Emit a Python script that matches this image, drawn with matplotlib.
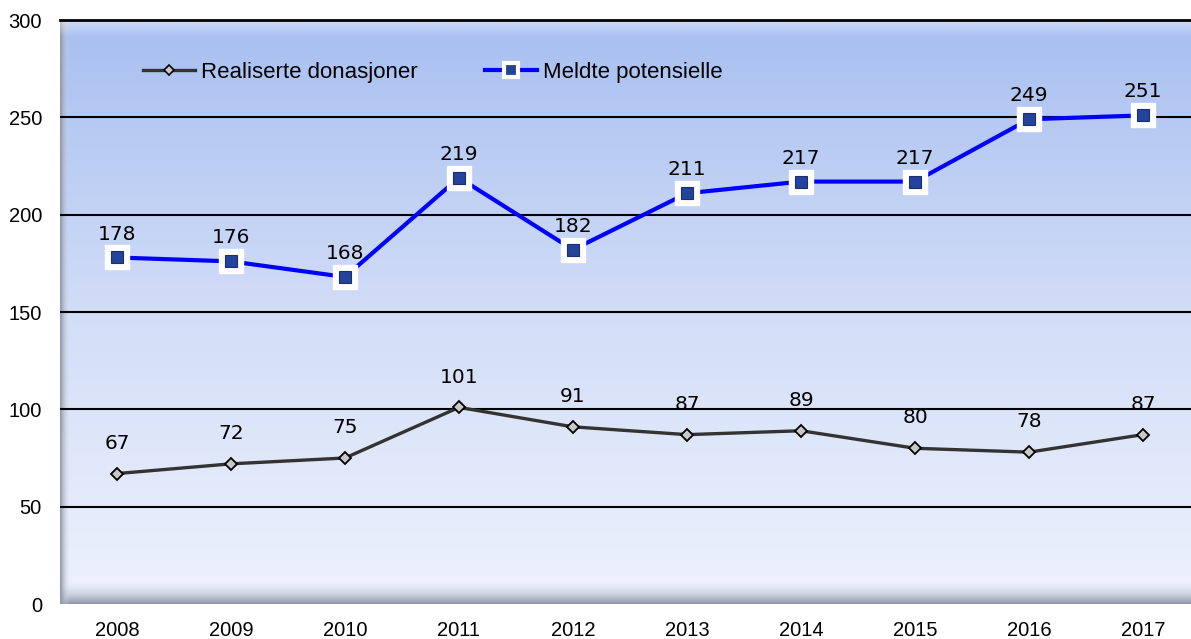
import numpy as np
import matplotlib
matplotlib.use("Agg")
import matplotlib.pyplot as plt
from matplotlib.colors import LinearSegmentedColormap
from matplotlib.lines import Line2D

years = ["2008", "2009", "2010", "2011", "2012", "2013", "2014", "2015", "2016", "2017"]
realiserte = [67, 72, 75, 101, 91, 87, 89, 80, 78, 87]
meldte = [178, 176, 168, 219, 182, 211, 217, 217, 249, 251]
y_ticks = [0, 50, 100, 150, 200, 250, 300]

W, H = 1191, 639
fig = plt.figure(figsize=(W / 100, H / 100), dpi=100)
ax = fig.add_axes([60 / W, (H - 604) / H, (W - 60) / W, 584 / H])

x = np.arange(len(years))
xr = 9 + 48 / 114
ax.set_xlim(-0.5, xr)
ax.set_ylim(0, 300)

# gradient background
cmap = LinearSegmentedColormap.from_list("bg", ["#eef2fd", "#d2ddf7", "#a7bff0"])
grad = np.linspace(0, 1, 256).reshape(-1, 1)
ax.imshow(grad, aspect="auto", cmap=cmap, extent=[-0.5, xr, 0, 300],
          origin="lower", zorder=0)
# bevel: bottom and left shading
bcmap = LinearSegmentedColormap.from_list("bev", [(0.55, 0.58, 0.65, 1.0), (0.85, 0.87, 0.92, 0.0)])
ax.imshow(grad, aspect="auto", cmap=bcmap, extent=[-0.5, xr, 0, 11],
          origin="lower", zorder=0.5)
lg = np.linspace(0, 1, 256).reshape(1, -1)
ax.imshow(lg, aspect="auto", cmap=bcmap, extent=[-0.5, -0.42, 0, 300],
          origin="lower", zorder=0.5)
tcmap = LinearSegmentedColormap.from_list("top", [(1, 1, 1, 0.0), (1, 1, 1, 0.45)])
ax.imshow(grad, aspect="auto", cmap=tcmap, extent=[-0.5, xr, 291, 300],
          origin="lower", zorder=0.5)

for t in y_ticks[1:]:
    ax.axhline(t, color="black", lw=1.5, zorder=1)

ax.plot(x, realiserte, color="#333333", lw=2.4, marker="D", ms=6.5,
        mfc="#c8c8c8", mec="black", mew=1.3, zorder=3)
ax.plot(x, meldte, color="#0000ff", lw=3, zorder=3)
ax.plot(x, meldte, ls="none", marker="s", ms=17.5, mfc="white", mec="white", zorder=4)
ax.plot(x, meldte, ls="none", marker="s", ms=9, mfc="#23449a", mec="#1a2f70", mew=0.8, zorder=5)

for xi, v in zip(x, realiserte):
    ax.annotate(str(v), (xi, v), xytext=(0, 15), textcoords="offset points",
                ha="center", va="bottom", fontsize=14.5, fontfamily="DejaVu Sans", color="black")
for xi, v in zip(x, meldte):
    ax.annotate(str(v), (xi, v), xytext=(0, 10), textcoords="offset points",
                ha="center", va="bottom", fontsize=14.5, fontfamily="DejaVu Sans", color="black")

h1 = Line2D([], [], color="#333333", lw=2.4, marker="D", ms=5, mfc="#c8c8c8", mec="black", mew=1.2)
h2 = Line2D([], [], color="#0000ff", lw=3, marker="s", ms=10, mfc="#23449a", mec="white", mew=3)
fig.legend([h1, h2], ["Realiserte donasjoner", "Meldte potensielle"], ncol=2,
           loc="upper left", bbox_to_anchor=(143 / W, 1 - 62 / H), bbox_transform=fig.transFigure,
           frameon=False, borderpad=0, borderaxespad=0,
           prop={"family": "Liberation Sans", "size": 16}, handlelength=2.35,
           columnspacing=3.0, handletextpad=0.27)

ax.set_xticks(x)
ax.set_xticklabels(years, family="Liberation Sans", fontsize=14.5)
ax.set_yticks(y_ticks)
ax.set_yticklabels([str(t) for t in y_ticks], family="Liberation Sans", fontsize=14.5)
ax.tick_params(axis="both", length=0)
ax.tick_params(axis="y", pad=13)
ax.tick_params(axis="x", pad=12)
for s in ["left", "right", "bottom"]:
    ax.spines[s].set_visible(False)
ax.spines["top"].set_color("black")
ax.spines["top"].set_linewidth(2)

fig.savefig("out.png", dpi=100)
